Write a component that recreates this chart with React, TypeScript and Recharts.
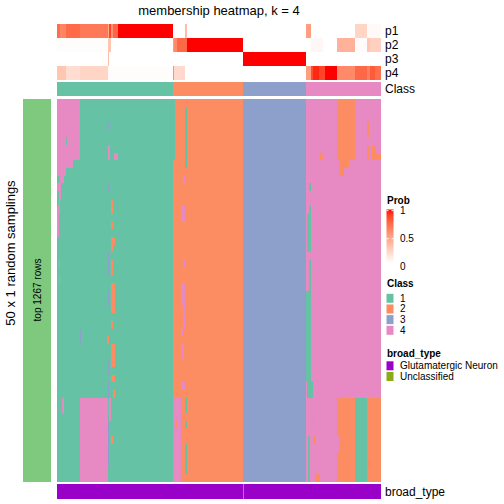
import React from 'react';
import { ComposedChart, XAxis, YAxis, ReferenceArea } from 'recharts';

// ---------------- data ----------------
const COLUMN_COUNT = 324;
const ROW_COUNT = 50;
const TITLE = 'membership heatmap, k = 4';
const probRowNames = ['p1', 'p2', 'p3', 'p4'];

// [start, end, probability]
const p1Segments: [number, number, number][] = [
  [0, 3, 0.72], [3, 9, 0.62], [9, 23, 0.74], [23, 51, 0.68], [51, 52, 0.45], [52, 54, 0.88],
  [54, 56, 0.55], [56, 61, 0.76], [61, 116, 1], [116, 128, 0], [128, 130, 0.35], [130, 249, 0],
  [249, 254, 0.5], [254, 298, 0], [298, 310, 0.22], [310, 324, 0.03],
];
const p2Segments: [number, number, number][] = [
  [0, 51, 0.01], [51, 54, 0.3], [54, 116, 0], [116, 117, 0.5], [117, 120, 0.6], [120, 130, 0.75],
  [130, 186, 1], [186, 254, 0], [254, 266, 0.04], [266, 280, 0], [280, 298, 0.4], [298, 310, 0.02],
  [310, 313, 0.3], [313, 324, 0.25],
];
const p3Segments: [number, number, number][] = [
  [0, 51, 0], [51, 52, 0.35], [52, 186, 0], [186, 249, 1], [249, 324, 0],
];
const p4Segments: [number, number, number][] = [
  [0, 9, 0.3], [9, 23, 0.18], [23, 51, 0.22], [51, 52, 0.03], [52, 116, 0.01], [116, 117, 0.55],
  [117, 128, 0.2], [128, 249, 0], [249, 254, 0.5], [254, 256, 0.85], [256, 262, 0.95],
  [262, 268, 0.88], [268, 280, 1], [280, 298, 0.6], [298, 310, 0.75], [310, 313, 0.65],
  [313, 318, 0.8], [318, 324, 0.72],
];

// [start, end, class]
const classSegments: [number, number, number][] = [
  [0, 116, 1], [116, 186, 2], [186, 249, 3], [249, 324, 4],
];

// sampling overrides: [colStart, colEnd, rowStart, rowEnd, class]
const samplingOverrides: [number, number, number, number, number][] = [
  // class 1 block
  [0, 23, 0, 8, 4], [9, 10, 5, 6, 1], [0, 16, 8, 9, 4], [0, 9, 9, 10, 4], [3, 7, 10, 11, 4],
  [0, 4, 11, 12, 4], [2, 4, 12, 13, 4], [2, 3, 13, 14, 4], [0, 3, 14, 15, 4], [0, 2, 15, 18, 4],
  [2, 3, 21, 22, 4], [2, 3, 23, 24, 2],
  [51, 52, 3, 4, 3], [51, 52, 11, 12, 3], [51, 52, 20, 23, 3], [51, 53, 6, 8, 4], [57, 61, 7, 8, 4],
  [54, 56, 13, 15, 2], [54, 56, 16, 17, 2], [54, 58, 18, 19, 2], [54, 56, 19, 20, 2],
  [54, 56, 21, 23, 2], [54, 58, 24, 25, 2],
  [54, 58, 25, 28, 2], [54, 56, 29, 30, 2], [50, 52, 31, 32, 2], [54, 58, 32, 35, 2],
  [54, 58, 36, 37, 2], [56, 58, 38, 39, 2], [51, 52, 25, 27, 3], [51, 52, 34, 36, 3],
  [51, 52, 37, 39, 3], [23, 24, 30, 32, 3],
  [23, 51, 39, 50, 4], [5, 7, 39, 41, 4], [52, 54, 39, 42, 4], [51, 52, 42, 48, 3], [54, 56, 44, 45, 2],
  // class 2 block
  [116, 118, 0, 8, 1], [128, 130, 1, 9, 1], [126, 128, 10, 11, 4], [124, 128, 14, 16, 4],
  [126, 128, 21, 22, 4], [124, 128, 24, 27, 4], [126, 128, 27, 30, 4], [124, 126, 30, 31, 4],
  [124, 127, 32, 34, 4], [124, 128, 37, 38, 4],
  [117, 124, 39, 50, 4], [118, 120, 42, 43, 2], [128, 130, 39, 41, 1], [128, 130, 42, 43, 1],
  [128, 130, 45, 49, 1],
  // class 4 block
  [280, 298, 0, 8, 2], [282, 292, 8, 9, 2], [282, 287, 9, 10, 2], [310, 312, 3, 5, 2],
  [310, 312, 6, 8, 2], [315, 319, 6, 8, 2], [319, 324, 7, 8, 2], [263, 266, 7, 8, 2],
  [252, 254, 11, 12, 1], [252, 254, 14, 15, 1], [250, 254, 15, 20, 1], [252, 254, 21, 25, 1],
  [249, 254, 25, 37, 1], [250, 256, 37, 39, 1],
  [280, 298, 39, 50, 2], [298, 310, 39, 50, 1], [310, 324, 39, 50, 2], [280, 282, 44, 46, 4],
  [251, 253, 44, 50, 1], [256, 257, 41, 42, 2], [256, 259, 44, 45, 2], [258, 263, 49, 50, 2],
  [312, 313, 47, 48, 1],
];

const broadTypeSegments: [number, number, string][] = [
  [0, 186, 'Glutamatergic Neuron'], [186, 187, 'Unclassified'], [187, 324, 'Glutamatergic Neuron'],
];
const sideLabel = 'top 1267 rows';
const rowAxisLabel = '50 x 1 random samplings';
const classLevels = [1, 2, 3, 4];
const broadTypeLevels = ['Glutamatergic Neuron', 'Unclassified'];
const probTicks = [1, 0.5, 0];

// ---------------- styles ----------------
const CLASS_COLORS: Record<number, string> = { 1: '#66C2A5', 2: '#FC8D62', 3: '#8DA0CB', 4: '#E78AC3' };
const BROAD_COLORS: Record<string, string> = { 'Glutamatergic Neuron': '#9900C8', Unclassified: '#8AAA17' };
const SIDE_COLOR = '#7FC97F';
const FONT = '"Liberation Sans", Arial, Helvetica, sans-serif';

// white -> red interpolated in LAB
function toLin(c: number) { c /= 255; return c <= 0.04045 ? c / 12.92 : Math.pow((c + 0.055) / 1.055, 2.4); }
function fromLin(c: number) {
  const v = c <= 0.0031308 ? 12.92 * c : 1.055 * Math.pow(c, 1 / 2.4) - 0.055;
  return Math.round(Math.max(0, Math.min(1, v)) * 255);
}
function rgbToLab(rgb: number[]) {
  const [R, G, B] = rgb.map(toLin);
  const X = (0.4124564 * R + 0.3575761 * G + 0.1804375 * B) / 0.95047;
  const Y = 0.2126729 * R + 0.7151522 * G + 0.072175 * B;
  const Z = (0.0193339 * R + 0.119192 * G + 0.9503041 * B) / 1.08883;
  const f = (t: number) => (t > 0.008856 ? Math.cbrt(t) : 7.787 * t + 16 / 116);
  const fx = f(X), fy = f(Y), fz = f(Z);
  return [116 * fy - 16, 500 * (fx - fy), 200 * (fy - fz)];
}
function labToHex(lab: number[]) {
  const [L, a, b] = lab;
  const fy = (L + 16) / 116, fx = fy + a / 500, fz = fy - b / 200;
  const inv = (f: number) => (f * f * f > 0.008856 ? f * f * f : (f - 16 / 116) / 7.787);
  const X = 0.95047 * inv(fx), Y = inv(fy), Z = 1.08883 * inv(fz);
  const r = fromLin(3.2404542 * X - 1.5371385 * Y - 0.4985314 * Z);
  const g = fromLin(-0.969266 * X + 1.8760108 * Y + 0.041556 * Z);
  const bb = fromLin(0.0556434 * X - 0.2040259 * Y + 1.0572252 * Z);
  return '#' + [r, g, bb].map((v) => v.toString(16).padStart(2, '0')).join('');
}
const LAB_WHITE = rgbToLab([255, 255, 255]);
const LAB_RED = rgbToLab([255, 0, 0]);
function probColor(v: number) {
  return labToHex(LAB_WHITE.map((w, i) => w + (LAB_RED[i] - w) * v));
}

type Cell = { x0: number; x1: number; r0: number; r1: number; fill: string };

const cellShape = (fill: string) => (props: any) => (
  <rect x={props.x} y={props.y} width={props.width} height={props.height} fill={fill} shapeRendering="crispEdges" />
);

function Band({ left, top, width, height, rows, cols, cells }: {
  left: number; top: number; width: number; height: number; rows: number; cols: number; cells: Cell[];
}) {
  return (
    <div style={{ position: 'absolute', left, top, width, height }}>
      <ComposedChart width={width} height={height} margin={{ top: 0, right: 0, bottom: 0, left: 0 }}
        data={cells.map((c) => ({ x: c.x0, y: c.r0 }))}>
        <XAxis type="number" dataKey="x" domain={[0, cols]} hide allowDataOverflow />
        <YAxis type="number" dataKey="y" domain={[0, rows]} reversed hide allowDataOverflow />
        {cells.map((c, i) => (
          <ReferenceArea key={i} x1={c.x0} x2={c.x1} y1={c.r0} y2={c.r1} fill={c.fill} fillOpacity={1}
            stroke="none" ifOverflow="visible" shape={cellShape(c.fill)} />
        ))}
      </ComposedChart>
    </div>
  );
}

const probCells: Cell[] = [p1Segments, p2Segments, p3Segments, p4Segments].flatMap((segs, r) =>
  segs.map(([s, e, v]) => ({ x0: s, x1: e, r0: r, r1: r + 1, fill: probColor(v) })));
const classCells: Cell[] = classSegments.map(([s, e, c]) => ({ x0: s, x1: e, r0: 0, r1: 1, fill: CLASS_COLORS[c] }));
const mainCells: Cell[] = [
  ...classSegments.map(([s, e, c]) => ({ x0: s, x1: e, r0: 0, r1: ROW_COUNT, fill: CLASS_COLORS[c] })),
  ...samplingOverrides.map(([s, e, r0, r1, c]) => ({ x0: s, x1: e, r0, r1, fill: CLASS_COLORS[c] })),
];
const broadCells: Cell[] = broadTypeSegments.map(([s, e, t]) => ({ x0: s, x1: e, r0: 0, r1: 1, fill: BROAD_COLORS[t] }));
const sideCells: Cell[] = [{ x0: 0, x1: 1, r0: 0, r1: ROW_COUNT, fill: SIDE_COLOR }];

export default function App() {
  const gradStops = Array.from({ length: 11 }, (_, i) => i / 10);
  return (
    <div style={{ position: 'absolute', left: 0, top: 0, width: 504, height: 504, background: '#fff', fontFamily: FONT }}>
      <Band left={57} top={24} width={324} height={56} rows={4} cols={COLUMN_COUNT} cells={probCells} />
      <Band left={57} top={82} width={324} height={14} rows={1} cols={COLUMN_COUNT} cells={classCells} />
      <Band left={57} top={99} width={324} height={383} rows={ROW_COUNT} cols={COLUMN_COUNT} cells={mainCells} />
      <Band left={23} top={99} width={28} height={383} rows={ROW_COUNT} cols={1} cells={sideCells} />
      <Band left={57} top={484} width={324} height={15} rows={1} cols={COLUMN_COUNT} cells={broadCells} />
      <svg width={504} height={504} style={{ position: 'absolute', left: 0, top: 0, pointerEvents: 'none' }}
        fontFamily={FONT}>
        <defs>
          <linearGradient id="probGrad" x1="0" y1="1" x2="0" y2="0">
            {gradStops.map((s) => <stop key={s} offset={s} stopColor={probColor(s)} />)}
          </linearGradient>
        </defs>
        <text x={219} y={15} fontSize={13} textAnchor="middle" fill="#000">{TITLE}</text>
        {probRowNames.map((n, i) => (
          <text key={n} x={385} y={31 + i * 14} fontSize={12} dominantBaseline="central" fill="#000">{n}</text>
        ))}
        <text x={385} y={89} fontSize={12} dominantBaseline="central" fill="#000">Class</text>
        <text x={385} y={492} fontSize={12} dominantBaseline="central" fill="#000">broad_type</text>
        <text transform="translate(10,253) rotate(-90)" fontSize={13} textAnchor="middle" dominantBaseline="central" fill="#000">{rowAxisLabel}</text>
        <text transform="translate(37,290) rotate(-90)" fontSize={10} textAnchor="middle" dominantBaseline="central" fill="#000">{sideLabel}</text>

        {/* Prob legend */}
        <text x={387} y={203.5} fontSize={10} fontWeight="bold" fill="#000">Prob</text>
        <rect x={386.5} y={209.5} width={7} height={53.5} fill="url(#probGrad)" />
        {probTicks.map((t, i) => (
          <g key={t}>
            {t > 0 && <line x1={386.5} x2={388.5} y1={210.7 + i * 28} y2={210.7 + i * 28} stroke="#fff" strokeWidth={1} />}
            {t > 0 && <line x1={391.5} x2={393.5} y1={210.7 + i * 28} y2={210.7 + i * 28} stroke="#fff" strokeWidth={1} />}
            <text x={400} y={210.7 + i * 28} fontSize={10} dominantBaseline="central" fill="#000">{String(t)}</text>
          </g>
        ))}

        {/* Class legend */}
        <text x={387} y={287.3} fontSize={10} fontWeight="bold" fill="#000">Class</text>
        {classLevels.map((c, i) => (
          <g key={c}>
            <rect x={386.5} y={293.8 + i * 10.67} width={7} height={9} fill={CLASS_COLORS[c]} />
            <text x={400} y={298.3 + i * 10.67} fontSize={10} dominantBaseline="central" fill="#000">{c}</text>
          </g>
        ))}

        {/* broad_type legend */}
        <text x={387} y={356.7} fontSize={10} fontWeight="bold" fill="#000">broad_type</text>
        {broadTypeLevels.map((t, i) => (
          <g key={t}>
            <rect x={386.5} y={361.3 + i * 10.67} width={7} height={9} fill={BROAD_COLORS[t]} />
            <text x={400} y={365.7 + i * 10.67} fontSize={10} dominantBaseline="central" fill="#000">{t}</text>
          </g>
        ))}
      </svg>
    </div>
  );
}
